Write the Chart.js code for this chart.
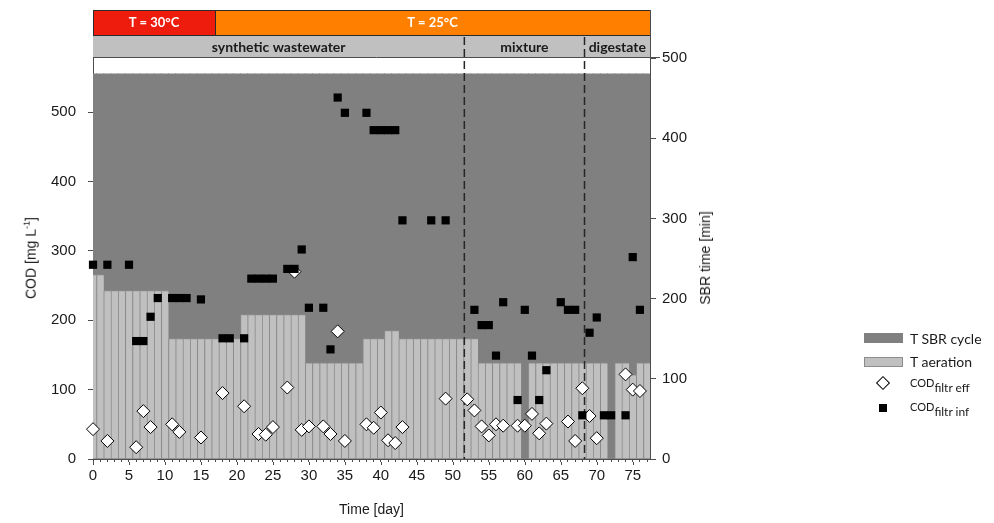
<!DOCTYPE html>
<html>
<head>
<meta charset="utf-8">
<script src="https://cdn.jsdelivr.net/npm/chart.js@4.4.1/dist/chart.umd.min.js"></script>
<style>
  html, body { margin: 0; padding: 0; background: #fff; }
  #wrap { position: relative; width: 994px; height: 523px; overflow: hidden; }
  #wrap canvas { position: absolute; left: 0; top: 0; }
  .axis-title { position: absolute; font-family: 'Liberation Sans', Arial, sans-serif; font-size: 14px; color: #1a1a1a; white-space: nowrap; transform: translate(-50%, -50%) rotate(-90deg); }
  .axis-title sup { font-size: 9px; }
  .sw { position: absolute; box-sizing: border-box; }
  .lt { position: absolute; font-family: Lato, 'Open Sans', sans-serif; font-size: 14px; line-height: 18px; color: #1a1a1a; white-space: nowrap; }
  .lt .cod { font-size: 11px; }
  .lt sub { font-size: 12px; vertical-align: -5px; }
</style>
</head>
<body>
<div id="wrap">
  <canvas id="chart" width="994" height="523"></canvas>
  <div class="axis-title" style="left:30px;top:258px">COD [mg L<sup>-1</sup>]</div>
  <div class="axis-title" style="left:705px;top:258px">SBR time [min]</div>

  <div class="sw" style="left:864px;top:333px;width:39px;height:10px;background:#808080"></div>
  <div class="lt" style="left:910px;top:330px">T SBR cycle</div>
  <div class="sw" style="left:864px;top:357px;width:39px;height:10px;background:#c0c0c0;border:1px solid #8c8c8c"></div>
  <div class="lt" style="left:910px;top:353px">T aeration</div>
  <div class="sw" style="left:878px;top:378px;width:10px;height:10px;background:#fff;border:1px solid #000;transform:rotate(45deg)"></div>
  <div class="lt" style="left:910px;top:373px"><span class="cod">COD</span><sub>filtr eff</sub></div>
  <div class="sw" style="left:879px;top:404px;width:8px;height:8px;background:#000"></div>
  <div class="lt" style="left:910px;top:397px"><span class="cod">COD</span><sub>filtr inf</sub></div>
</div>
<script>
// operating day of every SBR cycle record
const days = [
  0, 1, 2, 3, 4, 5, 6, 7, 8, 9, 10, 11, 12, 13, 14, 15, 16, 17, 18, 19,
  20, 21, 22, 23, 24, 25, 26, 27, 28, 29, 30, 31, 32, 33, 34, 35, 36, 37, 38, 39,
  40, 41, 42, 43, 44, 45, 46, 47, 48, 49, 50, 51, 52, 53, 54, 55, 56, 57, 58, 59,
  60, 61, 62, 63, 64, 65, 66, 67, 68, 69, 70, 71, 72, 73, 74, 75, 76, 77
];
// total cycle length [min]
const sbrCycle = [
  480, 480, 480, 480, 480, 480, 480, 480, 480, 480, 480, 480, 480, 480, 480, 480, 480, 480, 480, 480,
  480, 480, 480, 480, 480, 480, 480, 480, 480, 480, 480, 480, 480, 480, 480, 480, 480, 480, 480, 480,
  480, 480, 480, 480, 480, 480, 480, 480, 480, 480, 480, 480, 480, 480, 480, 480, 480, 480, 480, 480,
  480, 480, 480, 480, 480, 480, 480, 480, 480, 480, 480, 480, 480, 480, 480, 480, 480, 480
];
// aerated phase per cycle [min]
const aeration = [
  230, 230, 210, 210, 210, 210, 210, 210, 210, 210, 210, 150, 150, 150, 150, 150, 150, 150, 150, 150,
  150, 180, 180, 180, 180, 180, 180, 180, 180, 180, 120, 120, 120, 120, 120, 120, 120, 120, 150, 150,
  150, 160, 160, 150, 150, 150, 150, 150, 150, 150, 150, 150, 150, 150, 120, 120, 120, 120, 120, 120,
  0, 120, 120, 120, 120, 120, 120, 120, 120, 120, 120, 120, 0, 120, 120, 105, 120, 120
];

// filtered COD, effluent
const effDays = [0, 2, 6, 7, 8, 11, 12, 15, 18, 21, 23, 24, 25, 27, 28, 29, 30, 32, 33, 34, 35, 38, 39, 40,
  41, 42, 43, 49, 52, 53, 54, 55, 56, 57, 59, 60, 61, 62, 63, 66, 67, 68, 69, 70, 74, 75, 76];
const effCod = [43, 26, 17, 69, 46, 50, 39, 31, 95, 76, 36, 35, 46, 103, 270, 42, 47, 47, 36, 184, 26, 50, 45, 67,
  27, 23, 46, 87, 86, 70, 47, 34, 50, 48, 48, 48, 65, 37, 51, 54, 26, 102, 62, 30, 122, 100, 98];

// filtered COD, influent
const infDays = [0, 2, 5, 6, 7, 8, 9, 11, 12, 13, 15, 18, 19, 21, 22, 23, 24, 25, 27, 28, 29, 30, 32, 33, 34, 35,
  38, 39, 40, 41, 42, 43, 47, 49, 53, 54, 55, 56, 57, 59, 60, 61, 62, 63, 65, 66, 67, 68, 69, 70, 71, 72, 74, 75, 76];
const infCod = [280, 280, 280, 170, 170, 205, 232, 232, 232, 232, 230, 174, 174, 174, 260, 260, 260, 260, 274, 274, 302, 218, 218, 158, 521, 499,
  499, 474, 474, 474, 474, 344, 344, 344, 215, 193, 193, 149, 226, 85, 215, 149, 85, 128, 226, 215, 215, 63, 182, 204, 63, 63, 63, 291, 215];

// header bands
const tempLabels = ['T = 30°C', 'T = 25°C'];
const tempBounds = [0, 17, 77.4];
const feedLabels = ['synthetic wastewater', 'mixture', 'digestate'];
const feedBounds = [0, 51.6, 68.3, 77.4];

const codTicks = [0, 100, 200, 300, 400, 500];
const sbrTicks = [0, 100, 200, 300, 400, 500];

const AXIS = '#4d4d4d';
const TEXT = '#1a1a1a';
const tickFont = { family: "'Liberation Sans', Arial, sans-serif", size: 15 };

function drawHeader(chart) {
  const { ctx, chartArea: a, scales: { x } } = chart;
  ctx.save();
  ctx.fillStyle = '#fff';
  ctx.fillRect(0, 0, chart.width, chart.height);

  const tempColors = ['#ee1c0c', '#ff8000'];
  ctx.textAlign = 'center';
  ctx.textBaseline = 'middle';
  for (let i = 0; i < tempLabels.length; i++) {
    const x0 = Math.round(x.getPixelForValue(tempBounds[i]));
    const x1 = Math.round(x.getPixelForValue(tempBounds[i + 1]));
    ctx.fillStyle = tempColors[i];
    ctx.fillRect(x0, 10, x1 - x0, 25);
    ctx.strokeStyle = '#2b2b2b';
    ctx.lineWidth = 1;
    ctx.strokeRect(x0 + 0.5, 10.5, x1 - x0, 25);
    ctx.fillStyle = '#fff';
    ctx.font = "bold 13px Lato, 'Open Sans', sans-serif";
    ctx.fillText(tempLabels[i], (x0 + x1) / 2, 23);
  }

  ctx.fillStyle = '#c0c0c0';
  ctx.fillRect(a.left, 36, a.right - a.left, 21.5);
  ctx.fillStyle = TEXT;
  ctx.font = "bold 14px Lato, 'Open Sans', sans-serif";
  for (let i = 0; i < feedLabels.length; i++) {
    const x0 = x.getPixelForValue(feedBounds[i]);
    const x1 = x.getPixelForValue(feedBounds[i + 1]);
    ctx.fillText(feedLabels[i], (x0 + x1) / 2, 47);
  }

  // frame round the header rows
  ctx.strokeStyle = AXIS;
  ctx.lineWidth = 1;
  ctx.beginPath();
  ctx.moveTo(a.left, 57.5);
  ctx.lineTo(a.right + 10, 57.5);
  ctx.moveTo(Math.round(a.right) + 0.5, 10);
  ctx.lineTo(Math.round(a.right) + 0.5, a.top);
  ctx.stroke();
  ctx.restore();
}

function drawPhaseLines(chart) {
  const { ctx, chartArea: a, scales: { x } } = chart;
  ctx.save();
  ctx.strokeStyle = '#262626';
  ctx.lineWidth = 1.5;
  ctx.setLineDash([8, 4]);
  for (let i = 1; i < feedBounds.length - 1; i++) {
    const px = x.getPixelForValue(feedBounds[i]);
    ctx.beginPath();
    ctx.moveTo(px, 37);
    ctx.lineTo(px, a.bottom);
    ctx.stroke();
  }
  ctx.restore();
}

const headerPlugin = {
  id: 'header',
  beforeDraw: drawHeader,
  afterDatasetDraw(chart, args) {
    if (chart.data.datasets[args.index].label === 'T aeration') drawPhaseLines(chart);
  },
  afterDraw(chart) {
    // longer marks every 5 days
    const { ctx, chartArea: a, scales: { x } } = chart;
    ctx.save();
    ctx.strokeStyle = AXIS;
    ctx.lineWidth = 1;
    ctx.beginPath();
    days.filter(d => d % 5 === 0).forEach(d => {
      const px = Math.round(x.getPixelForValue(d)) + 0.5;
      ctx.moveTo(px, a.bottom + 3);
      ctx.lineTo(px, a.bottom + 6);
    });
    ctx.stroke();
    ctx.restore();
  }
};

const xy = (xs, ys) => xs.map((d, i) => ({ x: d, y: ys[i] }));

new Chart(document.getElementById('chart'), {
  type: 'bar',
  data: {
    datasets: [
      {
        type: 'scatter', label: 'COD filtr inf', data: xy(infDays, infCod), yAxisID: 'y',
        pointStyle: 'rect', pointRadius: 5.8, backgroundColor: '#000', borderColor: '#000', borderWidth: 0,
        clip: false, order: 0
      },
      {
        type: 'scatter', label: 'COD filtr eff', data: xy(effDays, effCod), yAxisID: 'y',
        pointStyle: 'rectRot', pointRadius: 6.5, backgroundColor: '#fff', borderColor: '#000', borderWidth: 1,
        clip: false, order: 1
      },
      {
        type: 'bar', label: 'T aeration', yAxisID: 'y1', grouped: false,
        data: days.map((d, i) => ({ x: d, y: aeration[i] > 0 ? aeration[i] : null })),
        backgroundColor: '#c0c0c0', borderColor: '#8c8c8c',
        borderWidth: { left: 1, top: 1, right: 0, bottom: 0 }, borderSkipped: false,
        barPercentage: 1, categoryPercentage: 1, order: 2
      },
      {
        type: 'bar', label: 'T SBR cycle', yAxisID: 'y1', grouped: false,
        data: xy(days, sbrCycle),
        backgroundColor: '#808080', borderWidth: 0, inflateAmount: 0.6,
        barPercentage: 1, categoryPercentage: 1, order: 3
      }
    ]
  },
  options: {
    responsive: false,
    animation: false,
    events: [],
    layout: { padding: { top: 58, left: 0, right: 0, bottom: 0 } },
    plugins: { legend: { display: false }, tooltip: { enabled: false } },
    scales: {
      x: {
        type: 'linear', min: 0, max: 77.4, offset: false,
        afterBuildTicks: s => { s.ticks = days.map(d => ({ value: d })); },
        afterFit: s => { s.height = 64; },
        ticks: {
          autoSkip: false, maxRotation: 0, padding: 5, color: TEXT, font: tickFont,
          callback: v => (v % 5 === 0 ? String(v) : '')
        },
        grid: { drawOnChartArea: false, offset: false, tickLength: 3, tickColor: AXIS },
        border: { color: AXIS, width: 1 },
        title: {
          display: true, text: 'Time [day]', color: TEXT, padding: 4,
          font: { family: "'Liberation Sans', Arial, sans-serif", size: 14 }
        }
      },
      y: {
        position: 'left', min: 0, max: 578,
        afterBuildTicks: s => { s.ticks = codTicks.map(v => ({ value: v })); },
        afterFit: s => { s.width = 93; },
        ticks: { padding: 12, color: TEXT, font: tickFont },
        grid: { drawOnChartArea: false, tickLength: 5, tickColor: AXIS },
        border: { color: AXIS, width: 1 }
      },
      y1: {
        position: 'right', min: 0, max: 500,
        afterBuildTicks: s => { s.ticks = sbrTicks.map(v => ({ value: v })); },
        afterFit: s => { s.width = 344; },
        ticks: { padding: 6, color: TEXT, font: tickFont },
        grid: { drawOnChartArea: false, tickLength: 6, tickColor: AXIS },
        border: { color: AXIS, width: 1 }
      }
    }
  },
  plugins: [headerPlugin]
});
</script>
</body>
</html>
